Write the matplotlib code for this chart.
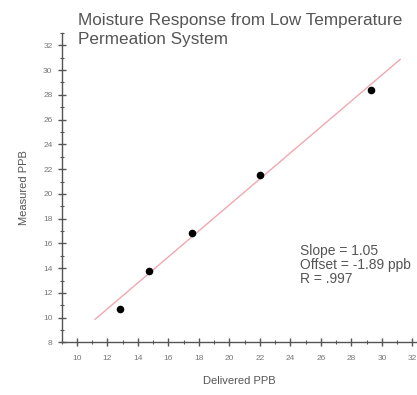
import numpy as np
import matplotlib.pyplot as plt
from matplotlib.ticker import MultipleLocator

plt.rcParams['font.family'] = ['Liberation Sans', 'DejaVu Sans']

# Measured points
delivered = [12.84, 14.74, 17.55, 21.98, 29.29]
measured = [10.69, 13.74, 16.82, 21.5, 28.4]

# Stated fit
slope = 1.05
offset = -1.89
r_value = ".997"
fit_x = np.array([11.2, 31.2])

fig = plt.figure(figsize=(4.17, 3.95), dpi=100)
ax = fig.add_axes([0.1475, 0.133, 0.8525, 0.7835])

ax.plot(fit_x, slope * fit_x + offset, color='#efa8b0', lw=1.0, zorder=1)
ax.scatter(delivered, measured, s=20, color='black', zorder=2)

ax.set_xlim(9, 32.3)
ax.set_ylim(8, 33)
ax.spines['top'].set_visible(False)
ax.spines['right'].set_visible(False)
for s in ('left', 'bottom'):
    ax.spines[s].set_color('#555555')
    ax.spines[s].set_linewidth(1.0)

ax.set_xticks(np.arange(10, 33, 2))
ax.set_yticks(np.arange(8, 33, 2))
ax.xaxis.set_minor_locator(MultipleLocator(1))
ax.yaxis.set_minor_locator(MultipleLocator(1))
ax.tick_params(which='major', direction='inout', length=6, width=1,
               color='#555555', labelsize=6, labelcolor='#777777')
ax.tick_params(axis='x', which='major', pad=6)
ax.tick_params(which='minor', direction='inout', length=3, width=0.8,
               color='#555555')

ax.set_xlabel('Delivered PPB', fontsize=8, color='#555555', labelpad=10)
ax.set_ylabel('Measured PPB', fontsize=8, color='#555555', labelpad=10)

fig.text(0.187, 0.968, 'Moisture Response from Low Temperature\nPermeation System',
         ha='left', va='top', fontsize=12.3, color='#555555', linespacing=1.35)

ax.text(0.671, 0.318, 'Slope = 1.05\nOffset = -1.89 ppb\nR = ' + r_value,
        transform=ax.transAxes, ha='left', va='top', fontsize=10,
        color='#555555', linespacing=1.0)

fig.savefig('out.png', dpi=100)
